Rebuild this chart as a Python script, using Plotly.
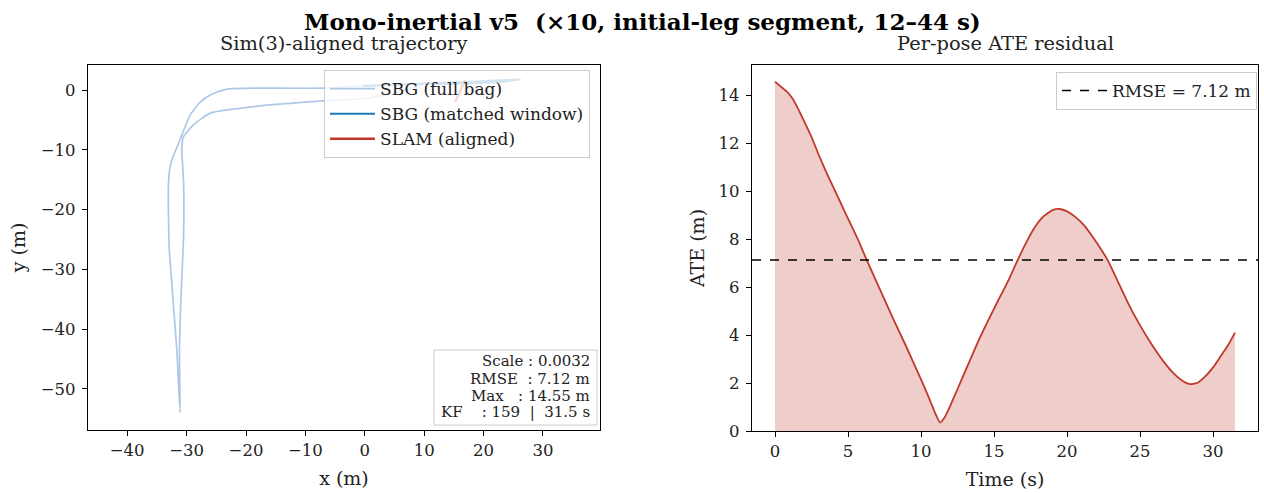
import plotly.graph_objects as go

# ---------------- data ----------------
# SBG full-bag trajectory (x, y in m)
full_x = [-31.1, -31.65, -32.5, -32.9, -33.05, -33.05, -32.8, -32.3, -31.6, -30.6, -29.4, -27.7,
          -25.7, -23.2, -20.0, -17.6, -7.0, -0.3, 8.0, 16.0, 22.0, 26.2, 24.0, 17.0, 10.5, 5.0,
          0.0, -7.0, -15.0, -22.2, -26.0, -28.9, -30.6, -30.8, -30.5, -30.5, -30.96, -31.2, -31.1]
full_y = [-54.0, -43.5, -32.3, -26.8, -21.2, -15.6, -13.0, -11.2, -9.5, -7.0, -4.2, -2.0,
          -0.67, 0.17, 0.3, 0.33, 0.33, 0.7, 1.0, 1.3, 1.6, 1.8, 1.5, 1.1, 1.0, -0.5,
          -1.4, -1.8, -2.4, -3.2, -3.85, -5.85, -8.0, -10.0, -15.6, -24.0, -35.1, -43.5, -54.0]

# SBG matched window (12-44 s)
win_x = [-0.3, 8.0, 16.0, 22.0, 26.2, 24.0, 17.0, 10.5]
win_y = [0.7, 1.0, 1.3, 1.6, 1.8, 1.5, 1.1, 1.0]

# SLAM (Sim(3)-aligned)
slam_x = [15.2, 15.6, 16.2, 16.6, 16.9]
slam_y = [-2.0, -1.2, 0.0, 1.0, 1.7]

# Per-pose ATE residual
t_s = [0, 0.4, 0.8, 1.2, 1.6, 2.0, 2.5, 3.0, 3.5, 4.0, 4.5, 5.0, 5.7, 6.3, 7.0, 8.0, 9.0, 10.0,
       10.6, 11.0, 11.3, 11.6, 12.0, 12.5, 13.0, 14.0, 15.0, 15.5, 16.0, 16.6, 17.2, 17.8, 18.4,
       19.0, 19.5, 20.0, 20.6, 21.2, 21.8, 22.4, 22.8, 23.5, 24.2, 25.0, 25.8, 26.6, 27.3, 28.0,
       28.4, 28.9, 29.5, 30.0, 30.5, 31.0, 31.5]
ate_m = [14.55, 14.35, 14.15, 13.85, 13.4, 12.9, 12.25, 11.5, 10.8, 10.15, 9.5, 8.85, 7.95, 7.1,
         6.15, 4.8, 3.5, 2.15, 1.3, 0.7, 0.35, 0.55, 1.05, 1.75, 2.45, 3.85, 5.1, 5.7, 6.3, 7.1,
         7.85, 8.5, 8.95, 9.2, 9.25, 9.15, 8.9, 8.55, 8.05, 7.5, 7.1, 6.2, 5.3, 4.4, 3.6, 2.9,
         2.4, 2.05, 1.95, 2.0, 2.3, 2.65, 3.1, 3.55, 4.1]
rmse = 7.12

stats_lines = ["Scale : 0.0032", "RMSE  : 7.12 m", "Max   : 14.55 m", "KF    : 159  |  31.5 s"]

# ---------------- style ----------------
FONT = "DejaVu Serif"
W, H = 1264, 493
C_FULL = "#aec7e8"
C_WIN = "#1f77b4"
C_SLAM = "#c0392b"
TXT = "#222"

def px(xp):
    return xp / W

def py(yp):
    return 1 - yp / H

fig = go.Figure()

fig.add_trace(go.Scatter(x=full_x, y=full_y, mode="lines", name="SBG (full bag)",
                         line=dict(color=C_FULL, width=1.7, shape="spline", smoothing=0.6),
                         legend="legend", xaxis="x", yaxis="y"))
fig.add_trace(go.Scatter(x=win_x, y=win_y, mode="lines", name="SBG (matched window)",
                         line=dict(color=C_WIN, width=2, shape="spline", smoothing=0.6),
                         legend="legend", xaxis="x", yaxis="y"))
fig.add_trace(go.Scatter(x=slam_x, y=slam_y, mode="lines", name="SLAM (aligned)",
                         line=dict(color=C_SLAM, width=2.4), legend="legend",
                         xaxis="x", yaxis="y"))

fig.add_trace(go.Scatter(x=t_s, y=ate_m, mode="lines", fill="tozeroy",
                         fillcolor="rgba(192,57,43,0.25)",
                         line=dict(color=C_SLAM, width=1.8, shape="spline", smoothing=0.5),
                         showlegend=False, xaxis="x2", yaxis="y2"))

t_pad = 0.05 * (max(t_s) - min(t_s))
t_lo, t_hi = min(t_s) - t_pad, max(t_s) + t_pad
fig.add_trace(go.Scatter(x=[t_lo, t_hi], y=[rmse, rmse], mode="lines",
                         name=f"RMSE = {rmse:.2f} m",
                         line=dict(color="black", width=1.5, dash="dash"),
                         legend="legend2", xaxis="x2", yaxis="y2"))

axis_common = dict(showline=True, mirror=True, linecolor="black", linewidth=1.2,
                   ticks="outside", ticklen=5, tickwidth=1.2, tickcolor="black",
                   showgrid=False, zeroline=False, automargin=False,
                   tickfont=dict(family=FONT, size=16.5, color=TXT))
title_font = dict(family=FONT, size=19, color=TXT)

fig.update_layout(
    width=W, height=H,
    margin=dict(l=0, r=0, t=0, b=0, autoexpand=False),
    paper_bgcolor="white", plot_bgcolor="white",
    font=dict(family=FONT, color=TXT),
    xaxis=dict(domain=[px(88), px(600)], range=[-46.6, 39.6], dtick=10, anchor="y",
               ticklabelstandoff=0,
               title=dict(text="x (m)", font=title_font, standoff=12), **axis_common),
    yaxis=dict(domain=[py(430), py(65)], range=[-56.9, 4.2], dtick=10, anchor="x",
               ticklabelstandoff=3,
               title=dict(text="y (m)", font=title_font, standoff=10), **axis_common),
    xaxis2=dict(domain=[px(752), px(1258)], range=[t_lo, t_hi], dtick=5, anchor="y2",
                ticklabelstandoff=0,
                title=dict(text="Time (s)", font=title_font, standoff=12), **axis_common),
    yaxis2=dict(domain=[py(431), py(65)], range=[0, 15.25], dtick=2, anchor="x2",
                ticklabelstandoff=3,
                title=dict(text="ATE (m)", font=title_font, standoff=8), **axis_common),
    legend=dict(x=px(590), y=py(70), xanchor="right", yanchor="top",
                bgcolor="rgba(255,255,255,0.8)", bordercolor="#cccccc", borderwidth=1,
                font=dict(family=FONT, size=17, color=TXT), tracegroupgap=0,
                itemwidth=45),
    legend2=dict(x=px(1257), y=py(72), xanchor="right", yanchor="top",
                 bgcolor="rgba(255,255,255,0.8)", bordercolor="#cccccc", borderwidth=1,
                 font=dict(family=FONT, size=17, color=TXT), itemwidth=45),
    showlegend=True,
)

# stats box frame
fig.add_shape(type="rect", xref="paper", yref="paper",
              x0=px(434), x1=px(597), y0=py(425), y1=py(350),
              line=dict(color="#cccccc", width=1), fillcolor="rgba(255,255,255,0.85)",
              layer="above")

annotations = [
    dict(text="<b>Mono-inertial v5  (×10, initial-leg segment, 12–44 s)</b>".replace("  ", "\u00a0\u00a0"),
         x=px(642), y=py(21), xref="paper", yref="paper", xanchor="center", yanchor="middle",
         showarrow=False, font=dict(family=FONT, size=23, color="black")),
    dict(text="Sim(3)-aligned trajectory", x=px(344), y=py(44), xref="paper", yref="paper",
         xanchor="center", yanchor="middle", showarrow=False,
         font=dict(family=FONT, size=19.4, color=TXT)),
    dict(text="Per-pose ATE residual", x=px(1005), y=py(44), xref="paper", yref="paper",
         xanchor="center", yanchor="middle", showarrow=False,
         font=dict(family=FONT, size=19.4, color=TXT)),
]
row_y = [361, 379, 396, 412]
for line_txt, ry in zip(stats_lines, row_y):
    annotations.append(dict(text=line_txt.replace(" ", "\u00a0"), x=px(592), y=py(ry),
                            xref="paper", yref="paper", xanchor="right", yanchor="middle",
                            showarrow=False, font=dict(family=FONT, size=15, color=TXT)))
fig.update_layout(annotations=annotations)

fig.write_html("out.html")
